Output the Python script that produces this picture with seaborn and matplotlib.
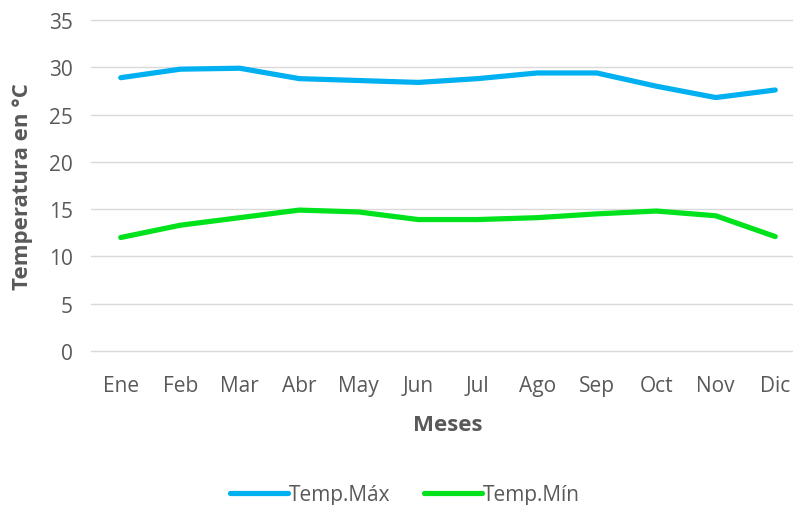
import matplotlib
matplotlib.use("Agg")
import matplotlib.pyplot as plt
import seaborn as sns
import pandas as pd

meses = ["Ene", "Feb", "Mar", "Abr", "May", "Jun", "Jul", "Ago", "Sep", "Oct", "Nov", "Dic"]
temp_max = [28.9, 29.8, 29.9, 28.8, 28.6, 28.4, 28.8, 29.4, 29.4, 28.0, 26.8, 27.6]
temp_min = [12.0, 13.3, 14.1, 14.9, 14.7, 13.9, 13.9, 14.1, 14.5, 14.8, 14.3, 12.1]
series = ["Temp.Máx", "Temp.Mín"]

df = pd.DataFrame({
    "Mes": meses * 2,
    "Temp": temp_max + temp_min,
    "Serie": [series[0]] * len(meses) + [series[1]] * len(meses),
})
df["x"] = list(range(len(meses))) * 2

sns.set_theme(style="white")
plt.rcParams["font.family"] = ["Open Sans", "DejaVu Sans"]

fig = plt.figure(figsize=(7.93, 5.06), dpi=100)
ax = fig.add_axes([91 / 793, (506 - 352) / 506, (805 - 91) / 793, (352 - 21) / 506])

palette = {series[0]: "#00B0F0", series[1]: "#00E31C"}
sns.lineplot(data=df, x="x", y="Temp", hue="Serie", palette=palette, ax=ax,
             linewidth=3.75, legend=True, solid_capstyle="round")

ax.set_xlim(-0.5, len(meses) - 0.5)
ax.set_ylim(0, 35)
ax.set_yticks(range(0, 36, 5))
ax.set_xticks(range(len(meses)))
ax.set_xticklabels(meses)
ax.yaxis.grid(True, color="#D9D9D9", linewidth=1)
for gl in ax.get_ygridlines():
    gl.set_clip_on(False)
ax.set_axisbelow(True)
for s in ax.spines.values():
    s.set_visible(False)
ax.tick_params(axis="both", length=0, labelsize=15, labelcolor="#595959")
ax.tick_params(axis="x", pad=17)
ax.tick_params(axis="y", pad=13)

ax.set_xlabel("Meses", fontsize=16, fontweight="bold", color="#595959")
ax.set_ylabel("Temperatura en °C", fontsize=16, fontweight="bold", color="#595959")
ax.xaxis.set_label_coords((448 - 91) / 714, (352 - 415) / 331)
ax.yaxis.set_label_coords((33 - 91) / 714, 0.5)

leg = ax.legend(loc="center", bbox_to_anchor=((405 - 91) / 714, (352 - 496) / 331),
                ncol=2, frameon=False, fontsize=15, handlelength=2.8,
                handletextpad=0.05, columnspacing=1.6)
for t in leg.get_texts():
    t.set_color("#595959")
for l in leg.get_lines():
    l.set_linewidth(3.75)

fig.savefig("out.png", dpi=100)
